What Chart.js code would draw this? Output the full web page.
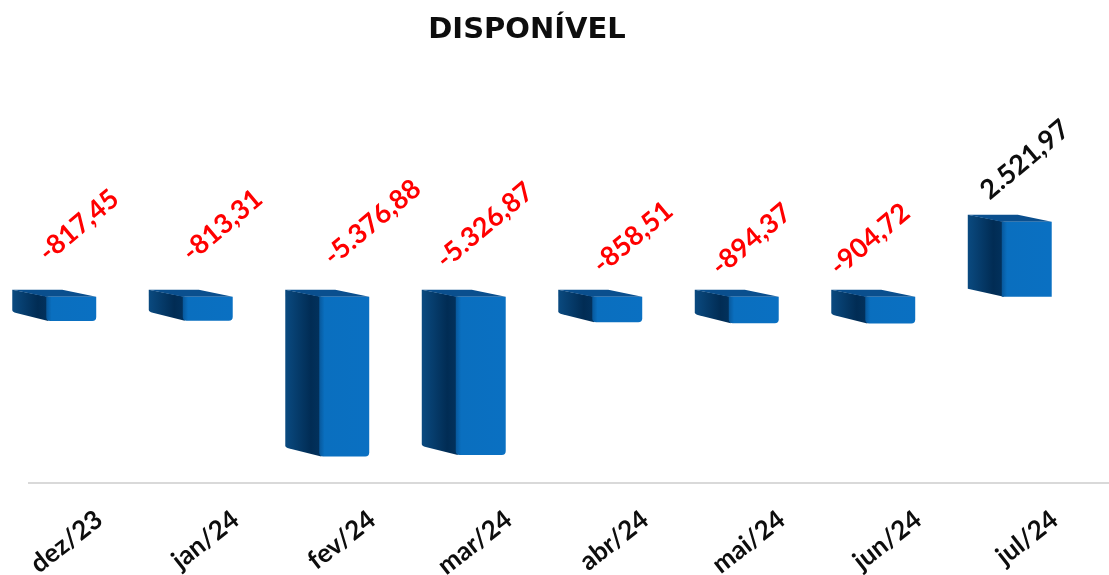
<!DOCTYPE html>
<html>
<head>
<meta charset="utf-8">
<script src="https://cdn.jsdelivr.net/npm/chart.js@4"></script>
<style>
  html, body { margin: 0; background: #fff; overflow: hidden; }
  #wrap { position: absolute; left: -14px; top: 0; width: 1123px; height: 575px; }
</style>
</head>
<body>
<div id="wrap"><canvas id="chart_disponivel"></canvas></div>
<script>
const meses = ['dez/23', 'jan/24', 'fev/24', 'mar/24', 'abr/24', 'mai/24', 'jun/24', 'jul/24'];
const disponivel = [-817.45, -813.31, -5376.88, -5326.87, -858.51, -894.37, -904.72, 2521.97];

const fmt = new Intl.NumberFormat('pt-BR', { minimumFractionDigits: 2, maximumFractionDigits: 2 });
const fonte = 'Lato, Carlito, sans-serif';

// the labels were placed by hand in the original, so each one has its own shift
const desvioRotulo = [[-6, -27], [1, -27], [6, -23], [-18, -20], [2, -15], [-16, -13], [-34, -13], [-20, -14]];

// the bars are drawn as a box: dark side, lighter front, top face
const barra3d = {
  id: 'barra3d',
  beforeDatasetDraw(chart, args) {
    const ctx = chart.ctx;
    args.meta.data.forEach((bar) => {
      const esq = bar.x - bar.width / 2;
      const dir = bar.x + bar.width / 2;
      const meio = esq + 34;
      const topo = Math.min(bar.y, bar.base);
      const fundo = Math.max(bar.y, bar.base);
      const prof = 7;
      const negativo = bar.y > bar.base;
      const r = negativo ? 4 : 0;

      let g = ctx.createLinearGradient(esq, 0, meio, 0);
      g.addColorStop(0, '#0a4a80');
      g.addColorStop(0.75, '#012c54');
      g.addColorStop(1, '#02315c');
      ctx.fillStyle = g;
      ctx.beginPath();
      ctx.moveTo(esq, topo);
      ctx.lineTo(meio + 2, topo + prof);
      ctx.lineTo(meio + 2, fundo + prof);
      ctx.lineTo(esq + r, fundo - 1);
      ctx.quadraticCurveTo(esq, fundo - 2, esq, fundo - r);
      ctx.closePath();
      ctx.fill();

      ctx.fillStyle = '#0a4f8e';
      ctx.beginPath();
      ctx.moveTo(esq, topo);
      ctx.lineTo(esq + 50, topo);
      ctx.lineTo(dir, topo + prof);
      ctx.lineTo(meio, topo + prof);
      ctx.closePath();
      ctx.fill();

      g = ctx.createLinearGradient(meio - 2, 0, dir, 0);
      g.addColorStop(0, '#064f8e');
      g.addColorStop(0.14, '#0a6fbf');
      g.addColorStop(1, '#0a70c2');
      ctx.fillStyle = g;
      ctx.beginPath();
      ctx.roundRect(meio, topo + prof, dir - meio, fundo - topo, [0, 0, r, r]);
      ctx.fill();
    });
    return false;
  }
};

const rotulos = {
  id: 'rotulos',
  afterDatasetsDraw(chart) {
    const ctx = chart.ctx;
    chart.getDatasetMeta(0).data.forEach((bar, i) => {
      const v = disponivel[i];
      ctx.save();
      ctx.translate(bar.x + desvioRotulo[i][0], Math.min(bar.y, bar.base) + desvioRotulo[i][1]);
      ctx.rotate(-40 * Math.PI / 180);
      ctx.font = 'bold 27px ' + fonte;
      ctx.fillStyle = v < 0 ? '#ff0000' : '#0d0d0d';
      ctx.textAlign = 'left';
      ctx.textBaseline = 'alphabetic';
      ctx.fillText(fmt.format(v), 0, 0);
      ctx.restore();
    });
  }
};

// axis line starts past the left edge of the plot, like the original
const linhaEixo = {
  id: 'linhaEixo',
  afterLayout(chart) {
    // title sits a little left of the plot centre
    chart.titleBlock.left -= 5;
    chart.titleBlock.right -= 5;
  },
  beforeDatasetsDraw(chart) {
    const ctx = chart.ctx;
    ctx.strokeStyle = '#d9d9d9';
    ctx.lineWidth = 2;
    ctx.beginPath();
    ctx.moveTo(42, chart.chartArea.bottom);
    ctx.lineTo(chart.width, chart.chartArea.bottom);
    ctx.stroke();
  }
};

const Chart_disponivel = () => {
  new Chart(document.getElementById('chart_disponivel'), {
    type: 'bar',
    data: {
      labels: meses,
      datasets: [{
        label: 'Disponível',
        data: disponivel,
        backgroundColor: '#0a70c2',
        barPercentage: 1,
        categoryPercentage: 0.615
      }]
    },
    plugins: [linhaEixo, barra3d, rotulos],
    options: {
      responsive: true,
      maintainAspectRatio: false,
      animation: false,
      layout: { padding: { left: 0, right: 31, top: 0, bottom: 0 } },
      plugins: {
        legend: { display: false },
        tooltip: { enabled: false },
        title: {
          display: true,
          text: 'DISPONÍVEL',
          color: '#0d0d0d',
          font: { family: '"DejaVu Sans", ' + fonte, size: 29, weight: 'bold' },
          padding: { top: 13, bottom: 18.8 }
        }
      },
      scales: {
        y: { display: false, min: -6500, max: 7500 },
        x: {
          afterFit: (scale) => {
            scale.height = 92;
            scale.paddingLeft = 0;
            scale.paddingRight = 0;
          },
          grid: { display: false },
          border: { display: false },
          ticks: {
            autoSkip: false,
            minRotation: 38,
            maxRotation: 38,
            labelOffset: 45,
            padding: 13,
            color: '#0d0d0d',
            font: { family: fonte, size: 26, weight: 'bold' }
          }
        }
      }
    }
  });
};

Chart_disponivel();
</script>
</body>
</html>
